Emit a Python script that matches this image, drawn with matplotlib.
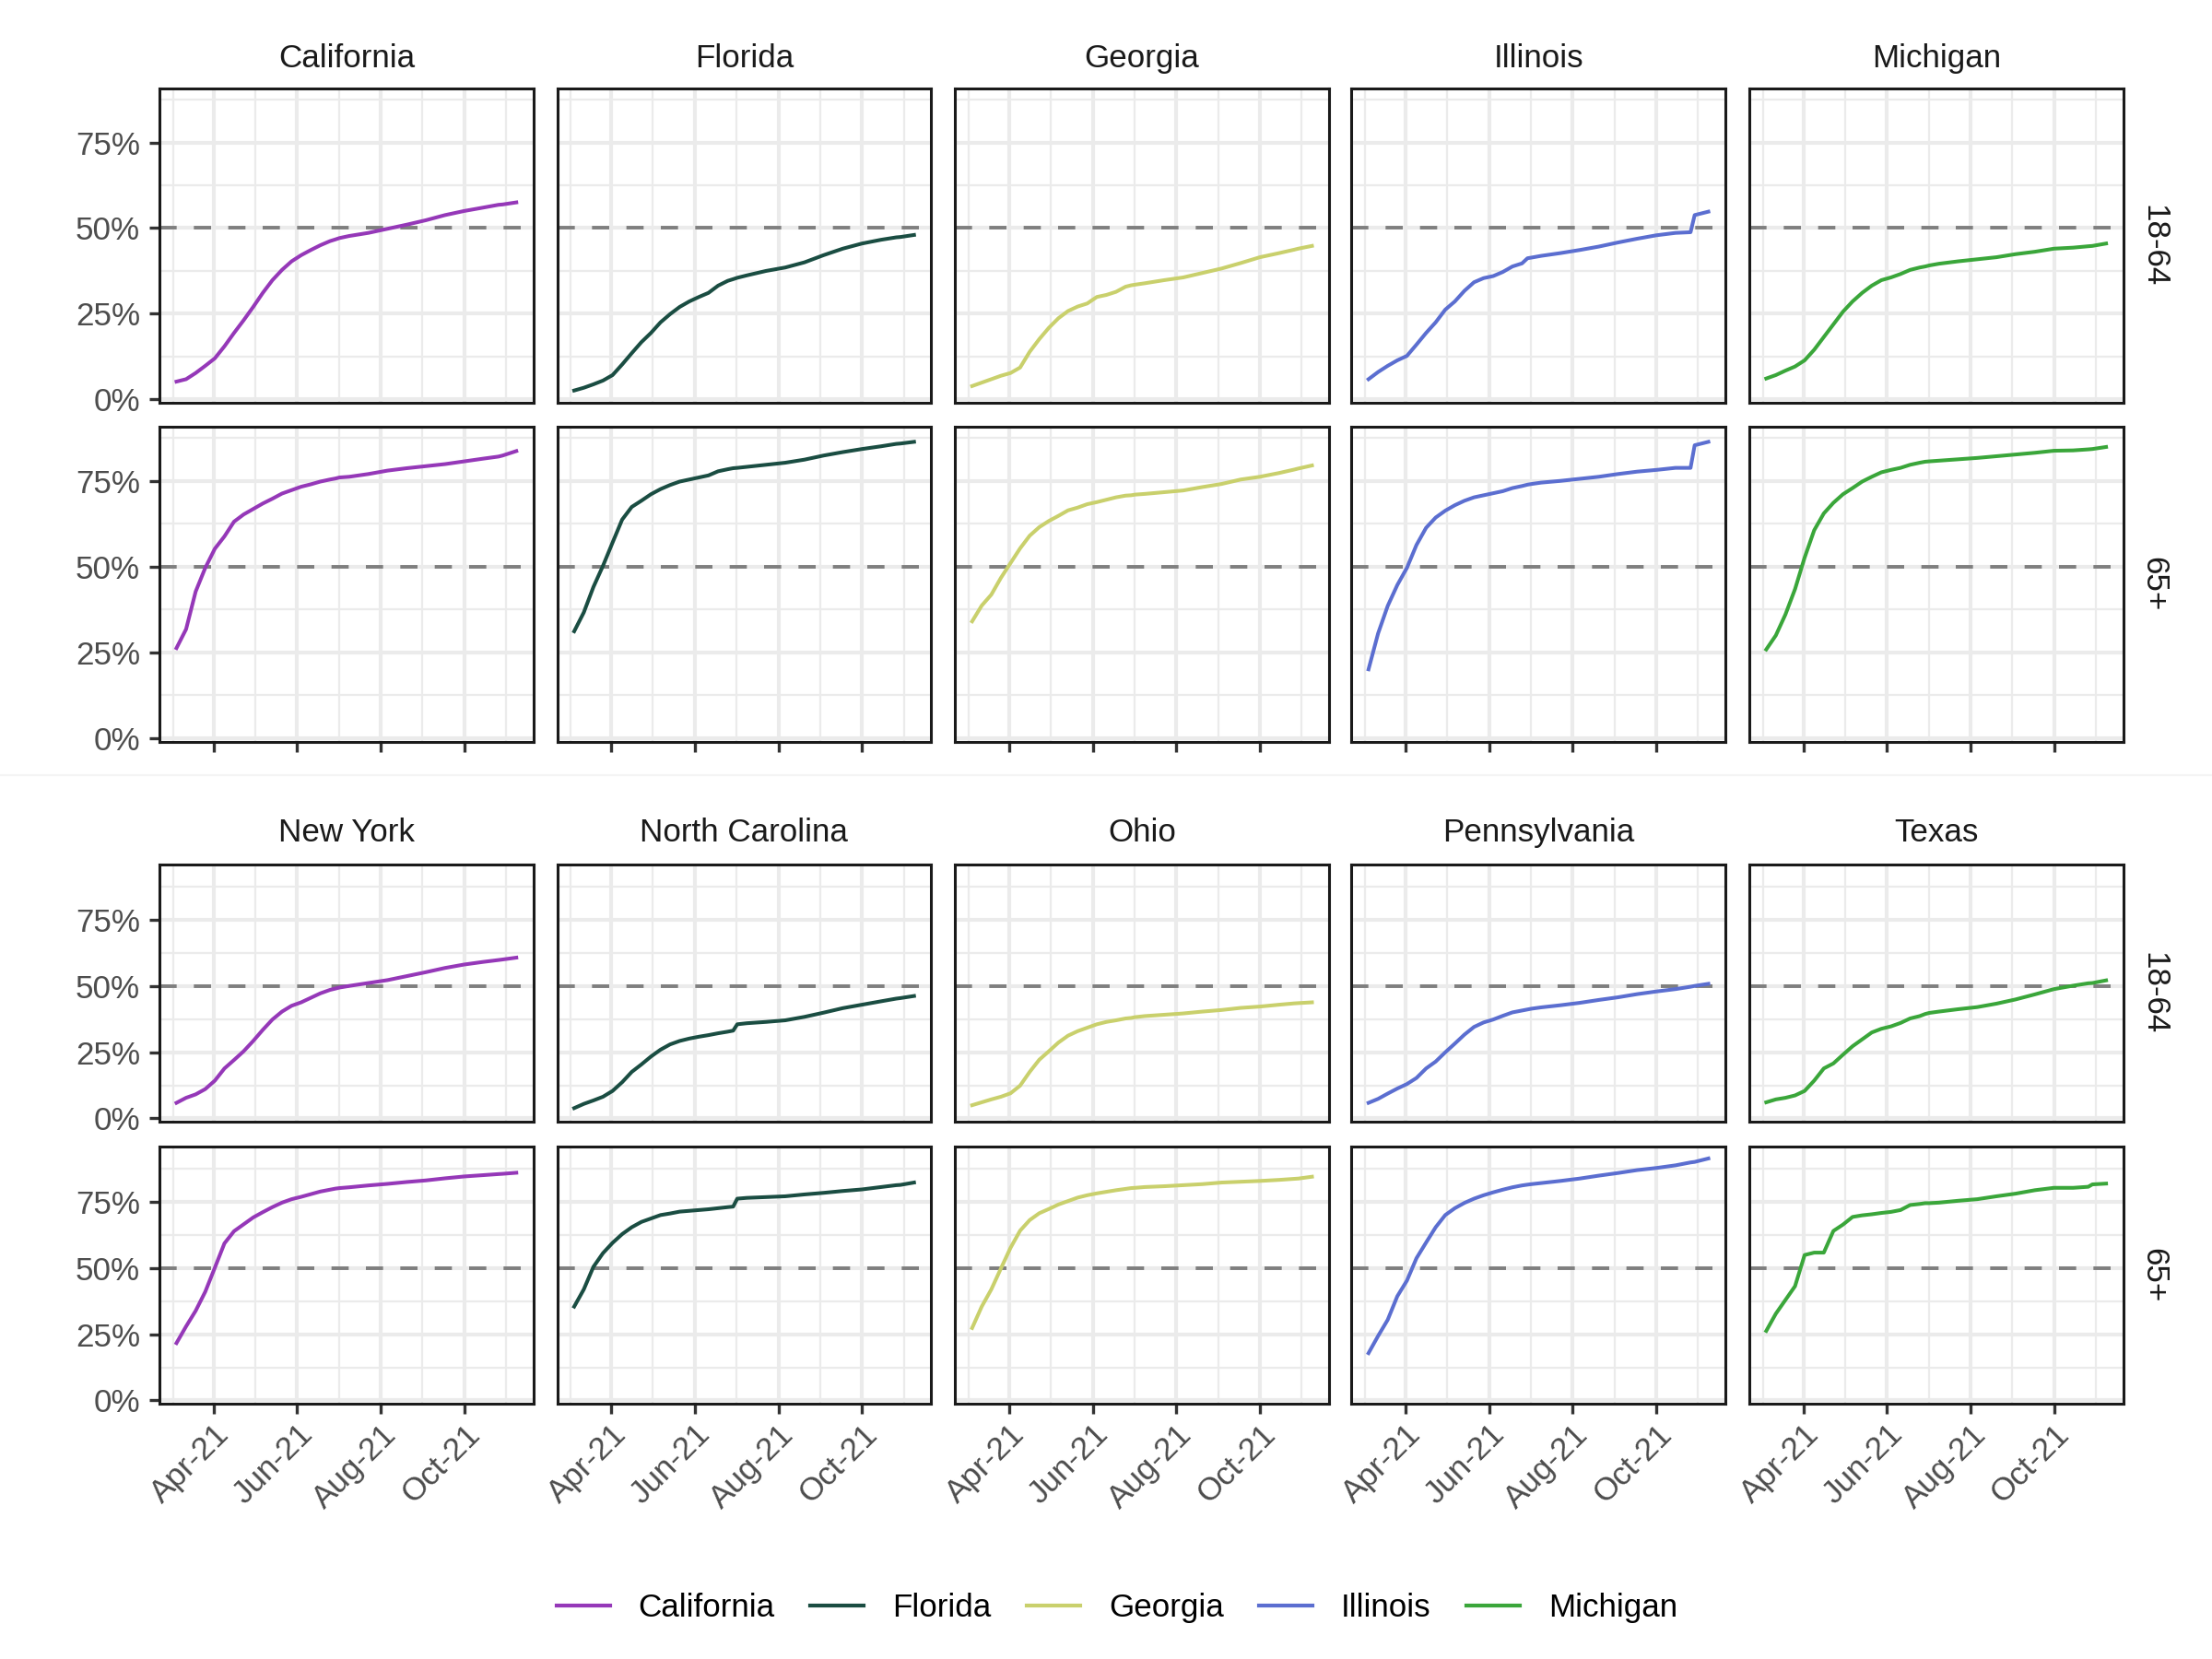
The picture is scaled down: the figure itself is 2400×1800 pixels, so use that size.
import numpy as np
import pandas as pd
import matplotlib
matplotlib.use("Agg")
import matplotlib.pyplot as plt
import matplotlib.dates as mdates
from matplotlib.lines import Line2D
from matplotlib.ticker import FixedLocator, FuncFormatter

plt.rcParams['font.family'] = ['Liberation Sans', 'DejaVu Sans']

# ---- data (share of age group with at least one dose, in %) ----
dates = ['2021-03-05', '2021-03-12', '2021-03-19', '2021-03-26', '2021-04-02',
         '2021-04-09', '2021-04-16', '2021-04-23', '2021-04-30', '2021-05-07',
         '2021-05-14', '2021-05-21', '2021-05-28', '2021-06-04', '2021-06-11',
         '2021-06-18', '2021-06-25', '2021-06-29', '2021-07-02', '2021-07-09',
         '2021-07-23', '2021-08-06', '2021-08-20', '2021-09-03', '2021-09-17',
         '2021-10-01', '2021-10-15', '2021-10-26', '2021-10-29', '2021-11-08']

age_groups = ['18-64', '65+']
top_states = ['California', 'Florida', 'Georgia', 'Illinois', 'Michigan']
bottom_states = ['New York', 'North Carolina', 'Ohio', 'Pennsylvania', 'Texas']
colors = ['#9538B8', '#1A4D42', '#C9D06C', '#5B6ED0', '#3AA63A']

ca_1864 = [5.2, 5.9, 7.7, 9.8, 12.0, 15.5, 19.4, 23.1, 27.0, 31.1, 34.8, 37.8, 40.3, 42.1, 43.6,
           45.0, 46.2, 46.7, 47.1, 47.7, 48.6, 49.8, 51.0, 52.3, 53.8, 55.0, 56.0, 56.8, 56.9, 57.5]
ca_65 = [26.2, 31.7, 42.7, 49.6, 55.2, 58.8, 63.1, 65.2, 66.8, 68.4, 69.8, 71.3, 72.3, 73.3, 74.0,
         74.8, 75.4, 75.7, 76.0, 76.2, 77.0, 78.0, 78.7, 79.3, 79.9, 80.7, 81.5, 82.1, 82.4, 83.7]
fl_1864 = [2.6, 3.4, 4.4, 5.5, 7.1, 10.2, 13.5, 16.7, 19.4, 22.5, 24.9, 27.0, 28.6, 29.9, 31.1,
           33.2, 34.6, 35.1, 35.5, 36.2, 37.5, 38.5, 40.0, 42.1, 44.0, 45.5, 46.6, 47.3, 47.4, 48.0]
fl_65 = [31.1, 36.6, 44.0, 50.2, 57.0, 63.7, 67.4, 69.2, 71.1, 72.6, 73.8, 74.8, 75.4, 76.0, 76.6,
         77.8, 78.4, 78.7, 78.8, 79.1, 79.7, 80.3, 81.2, 82.4, 83.4, 84.3, 85.1, 85.8, 85.9, 86.4]
ga_1864 = [3.9, 4.9, 5.9, 6.9, 7.7, 9.3, 13.9, 17.6, 20.9, 23.7, 25.8, 27.1, 28.0, 29.9, 30.5,
           31.4, 32.9, 33.3, 33.5, 33.9, 34.8, 35.6, 36.9, 38.2, 39.8, 41.5, 42.7, 43.7, 44.0, 44.8]
ga_65 = [34.0, 38.6, 41.8, 46.7, 51.0, 55.3, 59.0, 61.5, 63.3, 64.8, 66.4, 67.2, 68.2, 68.8, 69.5,
         70.2, 70.7, 70.8, 71.0, 71.2, 71.7, 72.2, 73.2, 74.1, 75.4, 76.2, 77.3, 78.3, 78.6, 79.5]
il_1864 = [5.9, 8.0, 9.8, 11.4, 12.7, 16.0, 19.4, 22.5, 26.2, 28.6, 31.7, 34.2, 35.4, 36.0, 37.2,
           38.8, 39.7, 41.2, 41.4, 41.9, 42.7, 43.6, 44.6, 45.8, 46.9, 47.9, 48.6, 48.8, 53.8, 54.8]
il_65 = [20.0, 30.5, 38.5, 44.6, 49.6, 56.3, 61.3, 64.3, 66.3, 67.9, 69.2, 70.2, 70.8, 71.4, 72.0,
         72.9, 73.5, 73.9, 74.1, 74.5, 75.0, 75.6, 76.2, 77.0, 77.7, 78.2, 78.8, 78.8, 85.4, 86.4]
mi_1864 = [6.1, 7.1, 8.4, 9.6, 11.4, 14.5, 18.2, 21.9, 25.6, 28.6, 31.1, 33.2, 34.8, 35.6, 36.6,
           37.8, 38.5, 38.8, 39.1, 39.6, 40.3, 40.9, 41.5, 42.4, 43.1, 44.0, 44.3, 44.7, 44.8, 45.5]
mi_65 = [25.8, 29.9, 36.0, 43.4, 52.6, 60.6, 65.5, 68.6, 71.1, 72.9, 74.8, 76.2, 77.5, 78.2, 78.8,
         79.7, 80.3, 80.6, 80.7, 80.9, 81.3, 81.7, 82.2, 82.7, 83.2, 83.8, 83.9, 84.2, 84.3, 84.9]

ny_1864 = [5.9, 7.8, 9.1, 11.1, 14.3, 18.9, 22.1, 25.4, 29.3, 33.5, 37.4, 40.4, 42.6, 43.9, 45.6,
           47.3, 48.6, 49.1, 49.5, 50.1, 51.2, 52.3, 53.8, 55.3, 56.9, 58.2, 59.2, 59.9, 60.1, 60.8]
ny_65 = [21.7, 28.0, 33.9, 41.1, 50.2, 59.4, 64.0, 66.6, 69.2, 71.2, 73.1, 74.8, 76.1, 77.0, 78.0,
         79.0, 79.7, 80.1, 80.3, 80.6, 81.3, 81.9, 82.6, 83.2, 84.0, 84.7, 85.2, 85.6, 85.7, 86.1]
nc_1864 = [3.9, 5.5, 6.8, 8.2, 10.4, 13.7, 17.6, 20.4, 23.4, 26.0, 28.0, 29.3, 30.2, 30.9, 31.5,
           32.2, 32.8, 33.2, 35.6, 36.0, 36.5, 37.1, 38.4, 40.0, 41.7, 43.0, 44.3, 45.3, 45.5, 46.3]
nc_65 = [35.5, 42.0, 50.5, 55.7, 59.6, 62.9, 65.5, 67.5, 68.8, 70.1, 70.7, 71.4, 71.7, 72.0, 72.3,
         72.7, 73.1, 73.3, 76.3, 76.6, 76.9, 77.2, 77.9, 78.5, 79.2, 79.8, 80.7, 81.4, 81.5, 82.4]
oh_1864 = [5.0, 6.1, 7.2, 8.2, 9.5, 12.4, 17.6, 22.2, 25.4, 28.7, 31.3, 33.0, 34.3, 35.6, 36.5,
           37.1, 37.8, 38.0, 38.3, 38.7, 39.2, 39.7, 40.4, 41.0, 41.8, 42.3, 43.0, 43.5, 43.6, 43.9]
oh_65 = [27.4, 35.5, 42.0, 49.9, 57.7, 64.2, 68.2, 70.8, 72.4, 74.1, 75.4, 76.7, 77.6, 78.3, 78.9,
         79.5, 80.0, 80.3, 80.4, 80.7, 81.0, 81.4, 81.8, 82.4, 82.7, 83.0, 83.4, 83.8, 83.9, 84.6]
pa_1864 = [5.9, 7.4, 9.4, 11.3, 13.0, 15.3, 18.9, 21.5, 25.0, 28.3, 31.7, 34.6, 36.3, 37.4, 38.8,
           40.1, 40.8, 41.2, 41.5, 42.0, 42.8, 43.7, 44.8, 45.8, 47.0, 48.0, 48.9, 49.8, 50.1, 50.9]
pa_65 = [17.9, 24.4, 30.5, 39.4, 45.3, 53.8, 59.7, 65.5, 70.1, 72.7, 74.7, 76.3, 77.6, 78.7, 79.7,
         80.6, 81.3, 81.6, 81.8, 82.2, 83.0, 83.9, 85.0, 86.0, 87.1, 87.9, 88.9, 90.0, 90.2, 91.5]
tx_1864 = [6.1, 7.2, 7.8, 8.7, 10.4, 14.3, 18.9, 20.8, 24.1, 27.3, 29.9, 32.5, 33.9, 34.8, 36.1,
           37.8, 38.7, 39.5, 39.9, 40.4, 41.3, 42.1, 43.4, 45.0, 46.9, 48.9, 50.2, 51.1, 51.2, 52.2]
tx_65 = [26.3, 32.8, 38.0, 43.2, 55.0, 55.9, 55.9, 64.1, 66.5, 69.4, 70.0, 70.4, 70.9, 71.3, 72.0,
         73.9, 74.3, 74.6, 74.6, 74.8, 75.5, 76.1, 77.2, 78.2, 79.5, 80.4, 80.4, 80.8, 81.7, 82.0]

top_data = [[ca_1864, fl_1864, ga_1864, il_1864, mi_1864],
            [ca_65, fl_65, ga_65, il_65, mi_65]]
bottom_data = [[ny_1864, nc_1864, oh_1864, pa_1864, tx_1864],
               [ny_65, nc_65, oh_65, pa_65, tx_65]]

# ---- styling ----
FS = 12.6
GRID = '#EBEBEB'
x = mdates.date2num(pd.to_datetime(dates))
span = x[-1] - x[0]
xlim = (x[0] - 0.05 * span, x[-1] + 0.05 * span)
majors = mdates.date2num(pd.to_datetime(['2021-02-01', '2021-04-01', '2021-06-01',
                                         '2021-08-01', '2021-10-01', '2021-12-01']))
minors = (majors[:-1] + majors[1:]) / 2

fig = plt.figure(figsize=(12, 9), dpi=200)
col_left = [0.0721, 0.2519, 0.4318, 0.6110, 0.7908]
col_w = 0.1690


def draw_grid(data, states, row_bottoms, row_h, title_off, show_labels):
    ymax = max(max(v) for row in data for v in row) / 100 * 1.05
    ylim = (-0.012 * ymax, ymax)
    for r, (rb, grp) in enumerate(zip(row_bottoms, age_groups)):
        for c in range(5):
            ax = fig.add_axes([col_left[c], rb, col_w, row_h])
            y = np.array(data[r][c]) / 100
            ax.plot(x, y, color=colors[c], lw=1.45, zorder=3, solid_joinstyle='round')
            ax.axhline(0.5, color='#7F7F7F', lw=1.4, dashes=(4.8, 4.8), zorder=2)
            ax.set_xlim(*xlim)
            ax.set_ylim(*ylim)
            ax.xaxis.set_major_locator(FixedLocator(majors))
            ax.xaxis.set_minor_locator(FixedLocator(minors))
            ax.xaxis.set_major_formatter(mdates.DateFormatter('%b-%y'))
            ax.yaxis.set_major_locator(FixedLocator([0, 0.25, 0.5, 0.75]))
            ax.yaxis.set_minor_locator(FixedLocator([0.125, 0.375, 0.625, 0.875]))
            ax.yaxis.set_major_formatter(FuncFormatter(lambda v, p: f"{v * 100:.0f}%"))
            ax.grid(which='major', color=GRID, lw=1.5)
            ax.grid(which='minor', color=GRID, lw=0.8)
            ax.set_axisbelow(True)
            for s in ax.spines.values():
                s.set_color('#1A1A1A')
                s.set_linewidth(1.1)
                s.set_zorder(4)
            ax.tick_params(which='minor', length=0)
            ax.tick_params(which='major', length=4, width=1.2, color='#333333',
                           labelsize=FS, labelcolor='#4D4D4D', pad=3.5)
            if c == 0:
                ax.tick_params(axis='y', which='major', left=True, labelleft=True)
            else:
                ax.tick_params(axis='y', which='major', length=0, labelleft=False)
            if r == 1:
                ax.tick_params(axis='x', which='major', labelbottom=show_labels, pad=2)
                if show_labels:
                    for lbl in ax.get_xticklabels():
                        lbl.set_rotation(45)
                        lbl.set_ha('right')
                        lbl.set_va('top')
                        lbl.set_rotation_mode('anchor')
            else:
                ax.tick_params(axis='x', which='major', length=0, labelbottom=False)
            if r == 0:
                ax.text(0.5, 1 + title_off, states[c], transform=ax.transAxes,
                        ha='center', va='center', fontsize=FS, color='#1A1A1A')
            if c == 4:
                ax.text(1 + 0.083, 0.5, grp, transform=ax.transAxes, rotation=-90,
                        ha='center', va='center', fontsize=FS, color='#1A1A1A')


draw_grid(top_data, top_states, [0.7570, 0.5530], 0.1896, 0.095, False)
draw_grid(bottom_data, bottom_states, [0.3240, 0.1540], 0.1550, 0.122, True)

# faint separator between the two grids
fig.add_artist(Line2D([0, 1], [0.533, 0.533], color='#F4F4F4', lw=0.8))

handles = [Line2D([], [], color=col, lw=1.5) for col in colors]
fig.legend(handles, top_states, loc='center', bbox_to_anchor=(0.505, 1 - 1140 / 1176),
           ncol=5, frameon=False, fontsize=FS, handlelength=1.66, handletextpad=0.88,
           columnspacing=1.1)

fig.savefig('out.png', dpi=200, facecolor='white')
